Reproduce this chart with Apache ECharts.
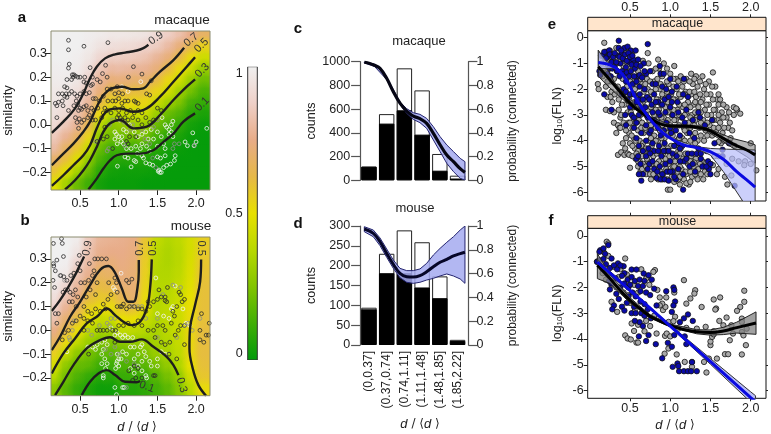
<!DOCTYPE html>
<html>
<head>
<meta charset="utf-8">
<style>html,body{margin:0;padding:0;background:#fff}#chart{width:771px;height:434px}</style>
<script src="https://cdn.jsdelivr.net/npm/echarts@6/dist/echarts.min.js"></script>
</head>
<body>
<div id="chart"></div>
<script>
// panel a/b background field, one array per column, rows top to bottom
const fieldCols = [.197,.344,.491,.638,.785,.931,1.078,1.225,1.372,1.519,1.666,1.813,1.96,2.107];
const fieldRows = [.37,.322,.274,.227,.179,.131,.083,.036,-.012,-.06,-.107,-.155,-.203,-.251];
const fieldA = [
  [1,1,1,.99,.98,.97,.96,.94,.91,.85,.8,.69,.59,.48],
  [1,1,1,.99,.98,.96,.94,.91,.84,.77,.68,.6,.48,.33],
  [1,1,.99,.98,.96,.93,.88,.82,.77,.68,.58,.47,.33,.2],
  [.99,.98,.96,.93,.88,.83,.78,.72,.63,.54,.42,.28,.2,.12],
  [.98,.95,.9,.84,.78,.72,.62,.52,.37,.28,.2,.14,.08,.04],
  [.97,.93,.87,.8,.72,.62,.54,.37,.27,.21,.13,.08,.04,.02],
  [.97,.92,.86,.8,.72,.62,.54,.4,.28,.21,.12,.07,.03,.02],
  [.96,.91,.85,.78,.7,.61,.53,.42,.31,.22,.12,.07,.03,.02],
  [.95,.88,.83,.77,.7,.6,.53,.42,.3,.22,.11,.06,.03,.01],
  [.91,.86,.78,.72,.62,.54,.42,.3,.2,.13,.08,.04,.02,.01],
  [.87,.8,.72,.62,.53,.44,.32,.2,.14,.08,.04,.02,.01,.01],
  [.82,.72,.62,.52,.43,.32,.24,.15,.09,.05,.02,.01,.01,.01],
  [.75,.63,.52,.42,.3,.22,.13,.08,.04,.02,.01,.01,.01,.01],
  [.68,.55,.43,.3,.21,.14,.1,.05,.02,.01,.01,.01,.01,.01]
];
const fieldB = [
  [1,1,1,.99,.97,.93,.88,.82,.74,.67,.55,.45,.37,.27],
  [1,1,.99,.97,.9,.83,.77,.7,.62,.52,.4,.28,.22,.17],
  [.98,.95,.89,.84,.79,.74,.67,.6,.51,.39,.27,.2,.15,.1],
  [.85,.83,.8,.76,.69,.62,.55,.49,.38,.3,.23,.18,.1,.06],
  [.78,.76,.72,.67,.62,.58,.51,.41,.33,.24,.18,.12,.07,.03],
  [.77,.75,.72,.68,.63,.58,.52,.41,.32,.24,.18,.12,.07,.03],
  [.76,.75,.74,.73,.71,.65,.58,.5,.39,.27,.2,.15,.11,.07],
  [.74,.73,.72,.71,.71,.7,.6,.5,.38,.29,.2,.16,.11,.07],
  [.58,.57,.56,.55,.54,.52,.49,.42,.36,.3,.24,.17,.12,.09],
  [.4,.38,.37,.36,.37,.37,.37,.36,.34,.33,.3,.23,.17,.13],
  [.36,.35,.35,.36,.37,.38,.39,.39,.38,.36,.34,.29,.23,.18],
  [.39,.38,.38,.39,.41,.42,.43,.43,.42,.41,.39,.36,.3,.26],
  [.45,.45,.46,.47,.48,.5,.51,.52,.53,.53,.53,.5,.44,.38],
  [.56,.57,.58,.59,.6,.6,.6,.6,.61,.61,.61,.6,.58,.52]
];
const rampColors = ['#009a0a','#40ae06','#82c400','#b8d800','#e8e000','#e6b848','#e8ac88','#eed0c8','#f0f0f0'];

// contour lines, [d, similarity]
const contoursA = [
  [[.134,-.034],[.284,.013],[.435,.069],[.543,.132],[.629,.195],[.716,.244],[.823,.279],[.953,.296],[1.082,.303],[1.233,.312],[1.319,.322],[1.384,.336]],
  [[.134,-.17],[.284,-.121],[.414,-.079],[.543,-.029],[.629,.013],[.716,.076],[.802,.125],[.91,.153],[1.04,.16],[1.19,.149],[1.319,.153],[1.405,.181],[1.534,.223],[1.707,.272],[1.845,.324]],
  [[.134,-.257],[.284,-.212],[.414,-.17],[.543,-.128],[.629,-.086],[.716,-.015],[.802,.041],[.888,.065],[1.017,.069],[1.19,.055],[1.362,.069],[1.534,.118],[1.707,.181],[1.879,.244],[1.987,.284]],
  [[.306,-.272],[.435,-.233],[.543,-.191],[.629,-.149],[.716,-.093],[.802,-.029],[.888,.006],[1.017,.02],[1.19,-.015],[1.362,-.008],[1.534,.041],[1.707,.104],[1.879,.16],[1.987,.191]],
  [[.608,-.272],[.716,-.226],[.802,-.184],[.888,-.149],[.974,-.128],[1.103,-.121],[1.276,-.121],[1.448,-.107],[1.578,-.072],[1.707,-.037],[1.836,.013],[1.987,.048]]
];
const contoursB = [
  [[.134,.081],[.241,.127],[.349,.183],[.435,.232],[.5,.275],[.552,.31]],
  [[.134,-.083],[.241,-.027],[.371,.057],[.5,.12],[.629,.19],[.759,.254],[.866,.27],[.953,.241],[1.04,.176],[1.125,.12],[1.19,.12],[1.241,.176],[1.259,.246],[1.259,.295]],
  [[.134,-.181],[.284,-.097],[.435,-.034],[.586,.029],[.716,.057],[.845,.092],[.953,.064],[1.06,.036],[1.168,.022],[1.276,.036],[1.362,.092],[1.405,.176],[1.427,.298]],
  [[.177,-.272],[.284,-.216],[.414,-.146],[.586,-.076],[.759,-.041],[.888,-.029],[1.017,-.048],[1.147,-.048],[1.297,-.038],[1.448,-.069],[1.621,-.111],[1.707,-.146],[1.772,-.188]],
  [[.522,-.272],[.629,-.216],[.737,-.181],[.845,-.167],[.953,-.188],[1.082,-.216],[1.233,-.218],[1.276,-.213]],
  [[2.065,.298],[2.052,.204],[1.987,.106],[1.922,.008],[1.914,-.076],[1.957,-.16],[2.03,-.23],[2.129,-.275]]
];
const contourLabelsA = [[1.483,.364,'0.9',35],[1.935,.357,'0.7',40],[2.07,.333,'0.5',45],[2.08,.228,'0.3',45],[2.08,.086,'0.1',45]];
const contourLabelsB = [[.595,.345,'0.9',80],[1.276,.345,'0.7',90],[1.448,.345,'0.5',90],[2.06,.345,'0.5',-90],[1.362,-.237,'0.1',-20],[1.815,-.23,'0.3',-75]];

// panel a points
const aDark = [[.35,.355],[.35,.315],[.55,.33],[.86,.345],[.36,.255],[.35,.238],[.63,.24],[.83,.25],[.56,.2],[.66,.2],[.79,.215],[.85,.2],[.76,.18],[.33,.19],[.3,.16],[.33,.155],[.32,.13],[.22,.13],[.27,.13],[.4,.21],[.41,.2],[.42,.21],[.44,.205],[.47,.2],[.5,.2],[.39,.19],[.55,.18],[.58,.175],[.64,.165],[.66,.17],[.72,.19],[.18,.09],[.2,.08],[.22,.095],[.27,.1],[.3,.12],[.33,.115],[.36,.13],[.39,.14],[.43,.13],[.46,.12],[.5,.13],[.55,.14],[.58,.13],[.62,.135],[.67,.11],[.7,.11],[.75,.1],[.8,.12],[.86,.1],[.92,.1],[.96,.1],[1,.11],[1.04,.09],[1.08,.1],[1.12,.1],[1.2,.1],[1.22,.095],[1.25,.09],[1.36,.13],[1.4,.125],[.45,.1],[.47,.085],[.42,.08],[.48,.06],[.5,.07],[.52,.065],[.55,.075],[.58,.08],[.6,.06],[.65,.07],[.68,.06],[.2,.03],[.44,.03],[.46,.01],[.49,.025],[.52,.01],[.55,.02],[.6,.03],[.62,.04],[.66,.02],[.48,-.015],[.7,.02],[.78,.03],[.8,.05],[.85,.06],[.9,.05],[.95,.07],[1,.06],[1.05,.07],[1.1,.05],[1.15,.06],[1.2,.05],[1.25,.06],[1.3,.05],[.35,.06],[.28,.08],[.73,.07],[1.19,.244],[1.3,.213],[1.125,.2],[1.42,.185],[.98,.16],[.9,.15],[.85,.15],[.95,.13],[1,.135],[1.05,.13],[.82,.07],[.82,-.01],[1,.04],[.98,.03],[1.02,.03],[1.04,.02],[1.08,.03],[1.12,.02],[1.18,.03],[1.5,.07],[1.55,.06],[1.35,.03],[1.4,.01],[1.45,.02],[.72,-.07],[.8,-.06],[.85,-.05],[.92,-.1],[1.1,-.07],[1.12,-.08],[1.14,-.05],[1.22,-.05],[1.3,0],[1.25,.02]];
const aWhite = [[1.285,.181],[1.01,.02],[.95,-.03],[.97,-.04],[1,-.05],[1.04,-.05],[1.06,-.02],[1.1,-.03],[1.14,0],[1.2,-.03],[1.25,-.05],[1.3,-.04],[1.35,-.03],[1.38,-.06],[1.42,-.02],[1.45,-.06],[1.5,-.03],[1.56,.03],[1.6,0],[1.62,-.01],[1.65,-.02],[1.68,-.03],[1.68,0],[1.7,.015],[1.65,-.04],[1.7,-.05],[1.55,-.05],[1.58,-.08],[.98,-.08],[1.03,-.07],[1.06,-.08],[1.1,-.1],[1.16,-.1],[1.22,-.09],[1.28,-.1],[1.3,-.08],[1.36,-.09],[1.4,-.11],[1.5,-.09],[1.6,-.1],[1.858,-.072],[1.888,-.088],[1.974,-.088],[2,-.072],[1.957,-.034],[2.138,-.015],[.983,-.174],[1.16,-.177],[1.08,-.135],[1.12,-.14],[1.2,-.15],[1.22,-.155],[1.3,-.13],[1.32,-.14],[1.35,-.16],[1.4,-.165],[1.44,-.17],[1.5,-.135],[1.54,-.14],[1.6,-.13],[1.62,-.17],[1.67,-.165],[1.73,-.13],[1.72,-.15],[1.51,-.195],[1.52,-.19],[1.53,-.2],[1.55,-.2],[1.58,-.18],[1.24,-.12],[.95,-.06],[1.04,.16],[1.12,.14]];
const aGrey = [[.85,-.11],[.87,-.1],[.7,-.07],[1.08,-.09],[1.3,-.02],[1.15,-.02],[1.18,0],[1.07,.01],[.92,.02],[.88,0],[1.34,-.06],[1.48,-.18],[1.44,-.14],[1.72,-.08],[1.78,-.08],[1.98,-.085],[1.7,-.1],[1.4,-.08],[1.5,.02],[1.45,-.01]];

// panel b points
const bDark = [[.155,.365],[.26,.385],[.27,.365],[.49,.315],[.285,.31],[.2,.295],[.155,.28],[.16,.27],[.18,.25],[.25,.23],[.29,.225],[.33,.21],[.38,.23],[.42,.24],[.47,.28],[.5,.25],[.15,.21],[.17,.18],[.28,.16],[.31,.17],[.34,.17],[.37,.16],[.41,.15],[.44,.17],[.47,.14],[.51,.2],[.56,.2],[.61,.21],[.66,.23],[.69,.3],[.62,.28],[.73,.3],[.78,.3],[.84,.3],[.68,.25],[.72,.2],[.63,.17],[.7,.15],[.58,.14],[.55,.1],[.6,.08],[.65,.07],[.7,.09],[.76,.08],[.8,.11],[.83,.09],[.86,.13],[.9,.15],[.98,.16],[.87,.2],[.97,.2],[.95,.22],[1.1,.21],[1.13,.2],[1.17,.215],[.98,.1],[1.04,.1],[1.02,.1],[1.06,.11],[1.1,.09],[1.14,.1],[1.2,.1],[1.25,.09],[1.3,.09],[1.35,.08],[1.38,.12],[1.4,.1],[1.45,.12],[1.5,.13],[1.55,.14],[1.6,.14],[1.6,.125],[1.62,.12],[1.7,.08],[1.72,.06],[1.68,.03],[1.57,.02],[1.6,0],[1.5,.02],[1.45,0],[1.47,-.03],[1.38,0],[1.3,.02],[1.25,.04],[1.2,.02],[1.12,.03],[1.06,.02],[1,.02],[.96,0],[.92,0],[.85,0],[.8,0],[.76,0],[.72,0],[.66,.03],[.6,.04],[.55,.05],[.5,.06],[.45,.04],[.4,.03],[.35,0],[.3,-.01],[.27,-.04],[.22,.07],[.18,.07],[.2,.03],[.4,.12],[.45,.1],[.36,.12],[1.75,.1],[1.78,.16],[1.8,.15],[1.82,.12],[1.85,.13],[1.63,.18],[1.52,.17],[1.85,.02],[1.8,.02],[1.77,0],[1.73,-.02],[1.66,-.05],[1.6,-.06],[1.55,-.05],[1.85,-.06],[1.75,-.12],[1.65,-.1],[2.07,.07],[2.05,0],[2.05,-.04],[2.1,-.05],[2.13,-.02],[2.16,-.02],[2.17,.03],[.61,-.1],[.55,0],[.95,-.05],[1.13,-.17],[1.2,-.15],[1.25,-.16],[1.3,-.2],[1.22,-.2],[1.18,-.21],[1.45,-.19],[1.47,-.19]];
const bWhite = [[1.03,.24],[.93,.18],[.95,.17],[1.48,.22],[1.73,.186],[1.83,.09],[1.7,.1],[1.68,.09],[1.5,.07],[1.58,.06],[1.65,.05],[1.85,.02],[1.87,.03],[1.92,.02],[.9,.01],[.95,-.02],[.98,-.01],[1.02,-.02],[1.05,-.03],[1.08,-.02],[1.12,-.03],[1.18,-.03],[.82,-.04],[.78,-.05],[.72,-.06],[.66,-.07],[.6,-.07],[.33,-.09],[.7,-.08],[.85,-.06],[.8,-.08],[.78,-.1],[.82,-.12],[.85,-.14],[.78,-.14],[.83,-.16],[.8,-.19],[.8,-.2],[.98,-.1],[1,-.12],[.97,-.14],[1,-.15],[.96,-.16],[.98,-.13],[1.03,-.12],[1.05,-.09],[1.1,-.1],[1.15,-.07],[1.2,-.07],[1.25,-.1],[1.3,-.06],[1.28,-.07],[1.33,-.09],[1.35,-.11],[1.4,-.13],[1.42,-.15],[1.3,-.13],[1.2,-.12],[1.25,-.15],[1.15,-.16],[1.2,-.18],[1.3,-.17],[1.35,-.19],[1.36,-.2],[1.5,-.12],[1.55,-.09],[1.6,-.1],[1.5,-.15],[1.05,-.24],[1.07,-.24],[.97,-.27],[.95,-.24]];
const bGrey = [[.3,.21],[.24,.23],[.36,-.03],[.37,-.04],[.4,0],[.42,.04],[.75,.02],[.85,.03],[.88,.02],[.9,.05],[.95,.05],[.6,0],[.65,-.02],[1.25,.1],[1.3,.1],[1.17,.1],[1.35,.05],[1.5,.05],[1.57,.15],[1.7,.19],[1.8,.18],[1.9,.03],[1.95,0],[2.05,.05],[1,-.1],[.95,-.07],[1.1,-.13],[1.2,-.14],[.9,-.1],[.83,-.08],[1.1,-.24],[1.5,-.03],[1.75,-.03]];

// panels c and d, bars
const binLabels = ['(0,0.37]','(0.37,0.74]','(0.74,1.11]','(1.11,1.48]','(1.48,1.85]','(1.85,2.22]'];
const cTotal = [115,558,944,758,222,39];
const cConn = [115,478,590,385,81,15];
const dTotal = [94,230,289,259,173,13];
const dConn = [90,181,181,145,118,10];
// probability curves
const cCurve = [[.088,.995],[.2,.985],[.3,.97],[.415,.944],[.555,.86],[.694,.747],[.833,.65],[.973,.584],[1.11,.542],[1.25,.52],[1.39,.48],[1.53,.396],[1.67,.3],[1.81,.213],[1.95,.157],[2.09,.098],[2.19,.067]];
const cUpper = [[.088,1],[.3,.98],[.555,.87],[.833,.66],[.973,.604],[1.11,.57],[1.25,.556],[1.39,.522],[1.53,.452],[1.67,.368],[1.81,.298],[1.95,.242],[2.09,.185],[2.19,.157]];
const cLower = [[2.19,0],[2.09,.017],[1.95,.073],[1.81,.143],[1.67,.242],[1.53,.34],[1.39,.438],[1.25,.486],[1.11,.514],[.973,.565],[.833,.64],[.555,.85],[.3,.96],[.088,.99]];
const dCurve = [[.088,.975],[.276,.938],[.415,.868],[.555,.77],[.694,.678],[.833,.602],[.973,.574],[1.11,.571],[1.25,.583],[1.39,.616],[1.53,.658],[1.67,.695],[1.81,.72],[1.95,.748],[2.09,.768],[2.19,.78]];
const dUpper = [[.088,.994],[.276,.966],[.415,.9],[.555,.807],[.694,.714],[.833,.644],[.973,.625],[1.11,.625],[1.25,.639],[1.39,.686],[1.53,.756],[1.67,.812],[1.81,.863],[1.95,.91],[2.09,.966],[2.19,1]];
const dLower = [[2.19,.518],[2.09,.555],[1.95,.58],[1.81,.597],[1.67,.58],[1.53,.56],[1.39,.546],[1.25,.527],[1.11,.518],[.973,.527],[.833,.566],[.694,.644],[.555,.737],[.415,.835],[.276,.91],[.088,.952]];

// panel e points
const eGrey = [[.1,-1.8],[.11,-2],[.13,-1.3],[.15,-1],[.16,-1.5],[.18,-.2],[.2,-.6],[.2,-1.9],[.22,-2.3],[.2,-2.8],[.25,-.5],[.27,-2.1],[.28,-2.5],[.3,-2.9],[.3,-1.6],[.24,-1.2],[.26,-1.7],[.29,-.9],[.33,-.4],[.34,-1.3],[.35,-1.9],[.36,-2.4],[.36,-2.8],[.3,-3.3],[.35,-3.4],[.37,-3.5],[.38,-3.5],[.38,-3.1],[.4,-.7],[.42,-1.1],[.41,-1.6],[.42,-2.2],[.43,-2.6],[.41,-4.1],[.45,-3.9],[.44,-4.3],[.35,-4.55],[.39,-4.45],[.43,-4.55],[.47,-4.5],[.49,-4.55],[.5,-5.05],[.45,-.4],[.47,-.9],[.48,-1.4],[.46,-1.9],[.49,-2.4],[.47,-2.9],[.48,-3.3],[.49,-3.7],[.5,-4.1],[.52,-.6],[.53,-1.2],[.54,-1.7],[.52,-2.2],[.55,-2.7],[.54,-3.1],[.53,-3.5],[.55,-3.9],[.56,-4.3],[.57,-4.7],[.6,-5],[.58,-.9],[.6,-1.3],[.59,-1.9],[.6,-2.3],[.58,-2.7],[.61,-3.2],[.6,-3.6],[.62,-4],[.6,-4.4],[.62,-4.8],[.63,-5.2],[.65,-5.1],[.66,-.9],[.68,-1.4],[.65,-1.8],[.67,-2.1],[.66,-2.5],[.68,-2.9],[.65,-3.3],[.67,-3.7],[.66,-4.1],[.68,-4.5],[.67,-4.9],[.7,-5.3],[.72,-.6],[.73,-1],[.71,-1.6],[.72,-2],[.74,-2.4],[.72,-2.8],[.74,-3.2],[.71,-3.6],[.73,-4],[.75,-4.4],[.72,-4.8],[.75,-5.3],[.76,-5.5],[.78,-1.3],[.8,-1.7],[.77,-2.2],[.79,-2.6],[.8,-3],[.78,-3.4],[.8,-3.8],[.77,-4.2],[.79,-4.6],[.81,-5],[.82,-5.4],[.85,-.85],[.86,-1.2],[.84,-1.6],[.87,-2],[.85,-2.4],[.86,-2.8],[.84,-3.2],[.87,-3.6],[.85,-4],[.88,-4.4],[.86,-4.8],[.88,-5.2],[.9,-5.5],[.92,-1],[.9,-1.5],[.93,-1.9],[.91,-2.3],[.94,-2.7],[.92,-3.1],[.95,-3.5],[.93,-3.9],[.91,-4.3],[.94,-4.7],[.95,-5.1],[.96,-5.5],[.97,-5.9],[1,-1.4],[.98,-1.8],[1.01,-2.2],[.99,-2.6],[1.02,-3],[1,-3.4],[1.03,-3.8],[1.01,-4.2],[.99,-4.6],[1.03,-5],[1.02,-5.4],[1.05,-1.1],[1.07,-1.6],[1.08,-2],[1.06,-2.4],[1.09,-2.8],[1.07,-3.2],[1.05,-3.6],[1.08,-4],[1.1,-4.4],[1.06,-4.8],[1.09,-5.2],[1.12,-5.7],[1.13,-1.5],[1.15,-1.9],[1.13,-2.3],[1.16,-2.7],[1.14,-3.1],[1.17,-3.5],[1.15,-3.9],[1.13,-4.3],[1.16,-4.7],[1.14,-5.1],[1.17,-5.5],[1.2,-1.6],[1.19,-2.1],[1.22,-2.5],[1.2,-2.9],[1.23,-3.3],[1.21,-3.7],[1.19,-4.5],[1.22,-4.9],[1.2,-5.3],[1.23,-5.7],[1.26,-1.4],[1.28,-1.8],[1.26,-2.2],[1.29,-2.6],[1.27,-3],[1.3,-3.4],[1.28,-3.8],[1.26,-4.6],[1.29,-5],[1.27,-5.4],[1.32,-1.5],[1.34,-1.9],[1.32,-2.3],[1.35,-2.7],[1.33,-3.1],[1.36,-3.5],[1.34,-4],[1.32,-4.7],[1.35,-5.1],[1.34,-5.5],[1.4,-1.5],[1.42,-2],[1.4,-2.4],[1.43,-2.8],[1.41,-3.2],[1.44,-3.6],[1.42,-4],[1.4,-4.8],[1.43,-5.2],[1.41,-5.5],[1.48,-1.7],[1.5,-2.2],[1.48,-2.6],[1.51,-3],[1.49,-3.4],[1.52,-3.8],[1.5,-4.9],[1.53,-1.35],[1.56,-1.9],[1.58,-2.4],[1.56,-2.8],[1.59,-3.2],[1.57,-3.6],[1.55,-4.6],[1.58,-5.3],[1.6,-5.1],[1.62,-2.4],[1.64,-2.9],[1.62,-3.3],[1.65,-3.7],[1.63,-4.1],[1.68,-5.4],[1.7,-4.9],[1.7,-3.1],[1.72,-3.5],[1.7,-2.7],[1.71,-5.7],[1.76,-5.35],[1.79,-2.7],[1.79,-3],[1.77,-4.7],[1.77,-3.6],[1.83,-2.8],[1.82,-2.75],[1.87,-2.95],[1.85,-4.8],[1.93,-4.8],[1.92,-4.95],[2,-4.9],[2,-4.1],[2.07,-5.15],[1,-5.9],[1.1,-5.5],[1.8,-4.2],[1.74,-4.1],[.33,-3.7],[.25,-2.85],[.24,-1.5],[.23,-.9],[.27,-.95]];
const eGreyMore = [[.14,-.7],[.17,-1.2],[.22,-1.7],[.26,-2.3],[.31,-2.2],[.33,-1],[.37,-2.1],[.4,-2.6],[.39,-3],[.42,-3.3],[.45,-3.6],[.46,-2.3],[.5,-1.7],[.51,-2.9],[.5,-3.3],[.52,-3.8],[.53,-4.2],[.53,-4.6],[.56,-2],[.56,-2.5],[.57,-3.3],[.57,-4],[.58,-4.5],[.6,-4.8],[.63,-1.6],[.63,-2.6],[.63,-3],[.64,-3.5],[.64,-4.2],[.65,-4.6],[.69,-1.8],[.7,-2.4],[.7,-3],[.69,-3.5],[.7,-4.3],[.71,-4.7],[.7,-5],[.75,-1.7],[.76,-2.1],[.76,-2.7],[.76,-3.4],[.76,-3.9],[.77,-4.4],[.77,-4.9],[.79,-5.3],[.82,-1.2],[.82,-2],[.83,-2.4],[.82,-2.8],[.82,-3.5],[.82,-4],[.83,-4.5],[.83,-4.9],[.85,-5.5],[.89,-1.4],[.88,-1.8],[.9,-2.2],[.89,-2.6],[.89,-3.1],[.9,-3.4],[.89,-3.9],[.91,-4.5],[.91,-4.9],[.91,-5.3],[.96,-1.2],[.96,-1.7],[.96,-2.1],[.97,-2.5],[.97,-2.9],[.97,-3.2],[.97,-3.7],[.97,-4.3],[.98,-4.9],[.98,-5.2],[1.04,-1.6],[1.04,-1.9],[1.04,-2.4],[1.04,-2.8],[1.05,-3.2],[1.05,-4.2],[1.05,-4.6],[1.05,-5],[1.05,-5.6],[1.1,-1.7],[1.11,-2.2],[1.11,-2.6],[1.11,-3],[1.11,-3.4],[1.11,-3.9],[1.12,-4.5],[1.12,-5],[1.12,-5.4],[1.17,-1.7],[1.18,-2.2],[1.18,-2.6],[1.18,-3],[1.18,-3.6],[1.18,-4],[1.19,-4.8],[1.19,-5.2],[1.2,-5.65],[1.24,-1.7],[1.24,-2.1],[1.25,-2.7],[1.25,-3.1],[1.25,-3.5],[1.25,-4],[1.25,-4.8],[1.25,-5.2],[1.25,-5.6],[1.3,-1.6],[1.3,-2.1],[1.31,-2.5],[1.31,-2.9],[1.31,-3.2],[1.31,-3.7],[1.31,-4.1],[1.3,-4.85],[1.31,-5.3],[1.37,-1.7],[1.37,-2.2],[1.38,-2.5],[1.38,-2.9],[1.38,-3.3],[1.38,-3.8],[1.37,-4.9],[1.38,-5.3],[1.44,-1.8],[1.45,-2.2],[1.45,-2.6],[1.46,-3],[1.46,-3.3],[1.46,-3.8],[1.45,-4.85],[1.46,-5.3],[1.52,-1.9],[1.53,-2.4],[1.54,-2.8],[1.54,-3.2],[1.54,-3.5],[1.53,-4.95],[1.6,-2.2],[1.6,-2.6],[1.6,-3],[1.6,-3.5],[1.6,-4.05],[1.6,-4.6],[1.66,-2.6],[1.66,-3.1],[1.67,-3.5],[1.67,-4],[1.73,-2.9],[1.74,-3.3],[1.75,-3.9]];
const eBlue = [[.12,-1.3],[.13,-1.45],[.18,-2.2],[.2,-.55],[.22,-.75],[.24,-.5],[.27,-.95],[.24,-1.2],[.22,-1.4],[.26,-1.5],[.28,-1.2],[.27,-2.8],[.36,-.12],[.36,-.4],[.35,-.7],[.38,-1],[.4,-.6],[.43,-.4],[.42,-.85],[.45,-1.15],[.47,-.35],[.49,-.95],[.51,-.5],[.54,-.85],[.57,-.5],[.56,-1.2],[.53,-1.8],[.45,-1.7],[.4,-2.2],[.47,-2.4],[.5,-2.7],[.44,-3],[.52,-3],[.58,-3.3],[.55,-3.5],[.6,-1.5],[.62,-1.9],[.6,-2.4],[.64,-2.8],[.61,-3],[.58,-3.9],[.61,-4.2],[.58,-4.7],[.63,-4.9],[.66,-5.3],[.61,-5.3],[.64,-5.55],[.67,-1],[.7,-1.4],[.68,-2],[.71,-2.3],[.69,-2.7],[.72,-3.1],[.7,-3.4],[.74,-3.7],[.7,-4],[.73,-4.3],[.7,-4.6],[.74,-4.9],[.72,-.25],[.78,-1.8],[.8,-2.2],[.78,-2.9],[.8,-3.2],[.78,-4.1],[.8,-4.4],[.78,-4.8],[.8,-5.1],[.83,-5.45],[.87,-1.1],[.88,-1.4],[.85,-2.5],[.87,-3],[.85,-3.5],[.88,-3.8],[.86,-4.2],[.89,-4.6],[.87,-5],[.88,-5.5],[.92,-1.4],[.93,-2.4],[.94,-2.9],[.95,-3.3],[.93,-4.1],[.95,-4.4],[.94,-4.9],[.96,-5.2],[.93,-5.5],[1,-1.6],[1.02,-2.1],[1,-2.7],[1.03,-3],[1.01,-3.7],[1.03,-4.5],[1,-4.8],[1.03,-5.2],[.98,-5.55],[1.08,-1.9],[1.09,-2.5],[1.07,-3.6],[1.1,-4.1],[1.08,-4.6],[1.1,-5.1],[1.07,-5.5],[1.17,-1.6],[1.16,-2.2],[1.18,-3.3],[1.15,-4.2],[1.17,-4.8],[1.16,-5.3],[1.16,-5.9],[1.22,-2.3],[1.24,-3.7],[1.22,-4.5],[1.24,-5],[1.28,-3.2],[1.3,-3.9],[1.28,-4.9],[1.31,-5.2],[1.35,-2.9],[1.37,-3.1],[1.35,-4.3],[1.38,-4.7],[1.4,-5],[1.43,-3.4],[1.45,-4.4],[1.47,-4.8],[1.5,-5.3],[1.52,-3.2],[1.55,-4.1],[1.48,-5.1],[1.65,-4.35],[1.65,-4.6],[1.8,-5.75],[1.73,-4.1]];
const eBlueMore = [[.15,-.7],[.18,-.55],[.2,-.8],[.25,-.65],[.29,-.75],[.31,-.6],[.33,-.95],[.31,-1.15],[.34,-1.3],[.37,-.75],[.39,-.5],[.41,-.8],[.44,-.65],[.46,-.9],[.48,-.6],[.5,-.75],[.53,-.7],[.55,-1],[.52,-1.05],[.58,-1.05],[.6,-.85],[.63,-1.1],[.37,-1.5],[.4,-1.3],[.43,-1.4],[.46,-1.35],[.49,-1.5],[.51,-1.3],[.55,-1.5],[.58,-1.7],[.62,-1.45],[.65,-1.55],[.68,-1.3],[.42,-2],[.45,-2.1],[.5,-2.2],[.55,-2.2],[.58,-2.5],[.62,-2.2],[.66,-2.4],[.66,-2.9],[.74,-2.4],[.77,-2.6],[.82,-2.5],[.85,-2.9],[.9,-2.6],[.98,-2.3],[1.02,-2.5],[1.1,-2.9],[1.15,-3.1],[1.2,-2.8],[.75,-1.3],[.82,-1.8],[.9,-1.9],[.95,-2],[.75,-4.5],[.85,-4.4],[.92,-4.4],[.98,-4.4],[1.05,-4.2],[1.12,-4.3],[1.2,-4.7],[1.27,-4.5],[1.33,-4.5],[1.38,-4.5],[1.45,-5],[1.5,-4.9],[.72,-5.1],[.84,-5.2],[.9,-5.3],[1,-5.2],[1.05,-5.4],[1.12,-4.8],[.66,-4.4],[.6,-4.6],[.64,-3.7],[.76,-3.6],[.84,-3.3],[.92,-3.6],[1,-3.5],[1.12,-3.8],[.55,-3.1],[.45,-3.4]];
// panel f points
const fGrey = [[.21,-.23],[.23,-.3],[.17,-.62],[.23,-.78],[.09,-1],[.44,-.88],[.27,-2.56],[.34,-2.95],[.44,-3.86],[.47,-3.98],[.51,-4.02],[.58,-4.14],[.6,-4.14],[.55,-3.69],[.6,-3.45],[.83,-3.79],[.935,-3.88],[.956,-3.79],[.977,-4.37],[.93,-4.57],[.95,-2.39],[.87,-2.39],[.81,-1.33],[.79,-1.4],[.7,-1.66],[1.17,-1.72],[1.31,-2.11],[1.3,-2.24],[1.25,-2.43],[1.2,-2.63],[1.39,-2.76],[1.54,-2.47],[1.62,-2.39],[1.57,-2.82],[1.56,-2.86],[1.92,-2.13],[1.92,-2.56],[1.87,-2.76],[1.83,-2.91],[1.08,-4.6],[1.18,-4.89],[1.27,-4.89],[1.27,-5.08],[1.42,-4.89],[1.45,-5.3],[1.48,-4.76],[1.5,-4.24],[1.5,-4.1],[1.52,-3.92],[1.54,-3.82],[1.44,-3.53],[1.33,-3.6],[1.2,-3.57],[.98,-3.34],[.91,-2.88],[.94,-2.76],[.9,-2.63],[.87,-2.7],[1.06,-3.14],[1.04,-3.31],[1.61,-3.3],[1.7,-3.17],[1.66,-3.47],[1.76,-3.47],[1.78,-3.79],[1.89,-3.21],[1.89,-3.34],[1.89,-3.73],[1.95,-3.6],[1.91,-3.86],[1.94,-4.24],[1.89,-4.6],[1.58,-4.76],[1.68,-4.59],[1.72,-4.59],[1.74,-4.05],[1.54,-3.7],[.16,-1.45],[.2,-1.7],[.27,-1.9],[.33,-2],[.36,-1.6],[.42,-2.2],[.48,-2.3],[.5,-2.6],[.56,-2.9],[.6,-2.2],[.66,-3],[.7,-3.3],[.75,-3.5],[.8,-3.1],[.55,-1.9],[.64,-1.3],[.3,-1.2],[.38,-1.3],[.46,-1.5],[.52,-3.4],[.68,-3.7],[.74,-1.9],[.84,-2.1],[1.1,-3.6],[1,-3.9],[1.05,-2.2]];
const fBlue = [[.13,-.56],[.12,-.62],[.17,-.49],[.23,-.36],[.19,-.7],[.12,-.95],[.09,-1.01],[.17,-.9],[.27,-.88],[.35,-1.07],[.42,-1.18],[.52,-1.31],[.58,-1.31],[.67,-1.46],[.73,-1.53],[.77,-1.7],[.2,-1.1],[.25,-1.25],[.3,-1.15],[.34,-1.3],[.38,-1.15],[.43,-1.45],[.47,-1.7],[.52,-1.6],[.56,-1.75],[.62,-1.7],[.68,-1.75],[.22,-1.5],[.27,-1.85],[.25,-2.08],[.33,-2.25],[.38,-2],[.43,-1.85],[.48,-2],[.53,-2.2],[.57,-2.35],[.63,-2.15],[.7,-2.2],[.75,-2.3],[.8,-2.05],[.63,-2.55],[.68,-2.65],[.3,-2.7],[.28,-2.85],[.36,-2.45],[.4,-2.75],[.46,-2.6],[.43,-2.9],[.52,-3],[.57,-3],[.64,-3],[.7,-3.05],[.76,-3.2],[.62,-3.35],[.66,-3.5],[.56,-3.3],[.68,-3.1],[.73,-3.85],[.61,-3.9],[.7,-4.08],[.82,-4.2],[.9,-4.75],[.97,-4.15],[1.02,-4.3],[.83,-2.7],[.95,-2.15],[1.04,-2],[1.05,-2.1],[1.06,-2.55],[1.04,-2.7],[1.02,-2.95],[1.22,-3.05],[1.17,-3.2],[1.28,-3.3],[1.05,-3.85],[1.12,-3.35],[1.18,-3.9],[1.03,-5.08],[1.09,-4.95],[1.1,-5.05],[1.11,-5.25],[1.17,-5.25],[1.22,-5.25],[1.26,-5.25],[1.33,-5.25],[1.2,-4.2],[1.27,-4.9],[.16,-1.3],[.24,-1.75],[.32,-1.65],[.4,-1.55],[.48,-2.35],[.6,-1.95],[.66,-1.95],[.55,-2.75],[.5,-1.9],[.72,-2.85]];

// panels e and f, fitted curves
const eBlackCurve = [[.106,-1.13],[.251,-1.64],[.376,-2.1],[.5,-2.55],[.624,-2.87],[.749,-3.13],[.873,-3.35],[.997,-3.43],[1.122,-3.43],[1.287,-3.46],[1.453,-3.56],[1.619,-3.84],[1.785,-4.13],[1.95,-4.36],[2.055,-4.55]];
const eBlackBand = [[.106,-.48],[.2,-1.1],[.3,-1.7],[.5,-2.47],[.75,-3.07],[1,-3.38],[1.29,-3.41],[1.45,-3.5],[1.62,-3.72],[1.785,-3.92],[1.95,-4.05],[2.055,-4.16],[2.055,-4.87],[1.95,-4.62],[1.785,-4.3],[1.62,-3.95],[1.45,-3.62],[1.29,-3.51],[1,-3.48],[.75,-3.19],[.5,-2.63],[.3,-2.1],[.2,-1.8],[.106,-1.5]];
const eBlueCurve = [[.106,-.96],[.251,-1.06],[.376,-1.32],[.479,-1.77],[.562,-2.29],[.666,-2.81],[.79,-3.32],[.914,-3.71],[1.039,-3.97],[1.163,-4.16],[1.329,-4.27],[1.495,-4.42],[1.66,-4.72],[1.826,-5.2],[1.95,-5.52],[2.055,-5.8]];
const eBlueBand = [[.106,-.5],[.2,-.9],[.3,-1.12],[.376,-1.28],[.479,-1.72],[.666,-2.76],[.79,-3.28],[1.039,-3.93],[1.329,-4.23],[1.5,-4.3],[1.7,-4.33],[2.055,-4.36],[2.055,-7],[1.9,-6.34],[1.66,-5.2],[1.5,-4.56],[1.329,-4.31],[1.039,-4.01],[.79,-3.36],[.666,-2.86],[.479,-1.82],[.376,-1.36],[.3,-1.2],[.2,-1.2],[.106,-1.2]];
const fBlackCurve = [[.094,-1.14],[.251,-1.66],[.376,-2.11],[.5,-2.5],[.624,-2.82],[.749,-3.12],[.873,-3.31],[.997,-3.47],[1.163,-3.63],[1.329,-3.72],[1.495,-3.75],[1.66,-3.69],[1.826,-3.56],[2.066,-3.38]];
const fBlackBand = [[.094,-.69],[.251,-1.5],[.5,-2.4],[.749,-3.06],[.997,-3.42],[1.329,-3.64],[1.495,-3.65],[1.66,-3.55],[1.826,-3.35],[2.066,-2.95],[2.066,-3.82],[1.826,-3.77],[1.66,-3.83],[1.495,-3.85],[1.329,-3.8],[.997,-3.53],[.749,-3.18],[.5,-2.6],[.251,-1.85],[.094,-1.66]];
const fBlueCurve = [[.094,-1.02],[.5,-2.12],[1,-3.5],[1.5,-4.88],[2,-6.27],[2.06,-6.42]];
const fBlueBand = [[.094,-.93],[.5,-2.07],[1,-3.46],[1.5,-4.76],[2,-6.05],[2.06,-6.2],[2.06,-6.6],[2,-6.45],[1.5,-4.98],[1,-3.54],[.5,-2.17],[.094,-1.12]];

// tick labels
const simXTicks = [.5,1,1.5,2];
const simYTicks = [-.2,-.1,0,.1,.2,.3];
const flnXTicks = [.5,1,1.5,2];
const flnYTicks = [-6,-5,-4,-3,-2,-1,0];
const probTicks = [0,.2,.4,.6,.8,1];
const cCountTicks = [0,200,400,600,800,1000];
const dCountTicks = [0,50,100,150,200,250,300];
const barTicks = [0,.5,1];

const FONT = '"Liberation Sans", Arial, sans-serif';
const INK = '#222';
const chart = echarts.init(document.getElementById('chart'), null, {renderer: 'canvas'});

const grids = [
  {left: 51, top: 31, width: 159, height: 159},
  {left: 51, top: 237, width: 159, height: 158.7},
  {left: 360.1, top: 61.7, width: 106.3, height: 118.6},
  {left: 360.1, top: 226, width: 106.3, height: 119},
  {left: 587.7, top: 30.7, width: 178.3, height: 170.3, show: true, borderColor: '#111', borderWidth: 1},
  {left: 587.7, top: 228.3, width: 178.3, height: 170, show: true, borderColor: '#111', borderWidth: 1},
  {left: 247.7, top: 66.7, width: 9.6, height: 293.3}
];

function hidden(i, extra) {
  return Object.assign({type: 'value', gridIndex: i, show: false}, extra);
}
function valAxis(i, pos, min, max, ticks, tickLen, margin, extra) {
  const labelExtra = (extra && extra.label) || {};
  return Object.assign({
    type: 'value', gridIndex: i, position: pos, min: min, max: max,
    axisLine: {show: false, onZero: false},
    splitLine: {show: false},
    axisTick: {show: true, length: tickLen, customValues: ticks, lineStyle: {color: INK, width: 1}},
    axisLabel: Object.assign({show: true, customValues: ticks, margin: margin, fontFamily: FONT, fontSize: 12.5, color: INK}, labelExtra)
  }, extra && extra.axis);
}
const fixed1 = v => v.toFixed(1);
const minusFixed1 = v => v.toFixed(1).replace('-', '\u2212');
const d2 = v => (v < 0 ? '-' : '') + Math.abs(v);

const xAxes = [
  valAxis(0, 'bottom', .124, 2.18, simXTicks, 5, 7, {label: {formatter: fixed1}}),
  valAxis(1, 'bottom', .124, 2.18, simXTicks, 5, 7, {label: {formatter: fixed1}}),
  {type: 'category', gridIndex: 2, data: binLabels, show: false},
  hidden(2, {min: 0, max: 2.22, position: 'top'}),
  {type: 'category', gridIndex: 3, data: binLabels, axisLine: {show: false}, axisTick: {show: false},
    axisLabel: {rotate: 90, margin: 6, interval: 0, fontFamily: FONT, fontSize: 12, color: INK}},
  hidden(3, {min: 0, max: 2.22, position: 'top'}),
  valAxis(4, 'bottom', -.026, 2.19, flnXTicks, 3, 4, {label: {show: false}}),
  valAxis(4, 'top', -.026, 2.19, flnXTicks, 3, 3, {label: {formatter: fixed1}, axis: {offset: 13.4}}),
  valAxis(5, 'bottom', -.026, 2.19, flnXTicks, 3, 4, {label: {formatter: fixed1}}),
  valAxis(5, 'top', -.026, 2.19, flnXTicks, 3, 3, {label: {show: false}, axis: {offset: 12.6}}),
  hidden(6, {min: 0, max: 1})
];

function countAxis(i, max, ticks) {
  return {
    type: 'value', gridIndex: i, position: 'left', min: 0, max: max, offset: 2,
    name: 'counts', nameLocation: 'middle', nameGap: 40,
    nameTextStyle: {fontFamily: FONT, fontSize: 12.5, color: INK},
    axisLine: {show: true, lineStyle: {color: '#555', width: 1.2}},
    axisTick: {show: true, length: 9, customValues: ticks, lineStyle: {color: '#555', width: 1.2}},
    axisLabel: {customValues: ticks, margin: 8, fontFamily: FONT, fontSize: 12.5, color: INK, formatter: v => String(v)},
    splitLine: {show: false}
  };
}
function probAxis(i) {
  return {
    type: 'value', gridIndex: i, position: 'right', min: 0, max: 1, offset: 2,
    name: 'probability (connected)', nameLocation: 'middle', nameGap: 38,
    nameTextStyle: {fontFamily: FONT, fontSize: 12, color: INK},
    axisLine: {show: true, lineStyle: {color: '#555', width: 1.2}},
    axisTick: {show: true, length: 9, customValues: probTicks, lineStyle: {color: '#555', width: 1.2}},
    axisLabel: {customValues: probTicks, margin: 8, fontFamily: FONT, fontSize: 12.5, color: INK},
    splitLine: {show: false}
  };
}
const simName = {name: 'similarity', nameLocation: 'middle', nameGap: 36,
  nameTextStyle: {fontFamily: FONT, fontSize: 13, color: INK}};
const flnName = {name: 'log{s|10}(FLN)', nameLocation: 'middle', nameGap: 24,
  nameTextStyle: {fontFamily: FONT, fontSize: 12.5, color: INK,
    rich: {s: {fontFamily: FONT, fontSize: 8, color: INK, verticalAlign: 'bottom', padding: [5, 0, 0, 0]}}}};
const rightTicks = {label: {show: false}};

const yAxes = [
  valAxis(0, 'left', -.274, .394, simYTicks, 6, 4, {label: {formatter: minusFixed1}, axis: simName}),
  valAxis(1, 'left', -.2745, .392, simYTicks, 6, 4, {label: {formatter: minusFixed1}, axis: simName}),
  countAxis(2, 1000, cCountTicks),
  probAxis(2),
  countAxis(3, 300, dCountTicks),
  probAxis(3),
  valAxis(4, 'left', -6.34, .27, flnYTicks, 4, 4, {label: {formatter: d2}, axis: flnName}),
  valAxis(4, 'right', -6.34, .27, flnYTicks, 2, 3, rightTicks),
  valAxis(5, 'left', -6.3, .29, flnYTicks, 4, 4, {label: {formatter: d2}, axis: flnName}),
  valAxis(5, 'right', -6.3, .29, flnYTicks, 2, 3, rightTicks),
  valAxis(6, 'left', 0, 1, barTicks, 0, 5, {label: {formatter: v => String(v), verticalAlignMaxLabel: 'top', verticalAlignMinLabel: 'bottom'}})
];

function fieldData(cols) {
  const out = [];
  cols.forEach((col, i) => col.forEach((v, j) => out.push([fieldCols[i], fieldRows[j], v])));
  return out;
}
function fieldColor(v) { return echarts.color.lerp(v, rampColors); }
// flat cells first, soft round cell on top so neighbouring cells blend
function cellSeries(i, cols) {
  return {
    type: 'custom', xAxisIndex: i, yAxisIndex: i, z: 1, clip: true, silent: true,
    data: fieldData(cols),
    renderItem: function (p, api) {
      const c = api.coord([api.value(0), api.value(1)]);
      const s = api.size([fieldCols[1] - fieldCols[0], fieldRows[0] - fieldRows[1]]);
      return {type: 'rect', shape: {x: c[0] - s[0] / 2 - .5, y: c[1] - s[1] / 2 - .5, width: s[0] + 1, height: s[1] + 1},
        style: {fill: fieldColor(api.value(2))}};
    }
  };
}
function softSeries(i, cols) {
  return {
    type: 'custom', xAxisIndex: i, yAxisIndex: i, z: 2, clip: true, silent: true,
    data: fieldData(cols),
    renderItem: function (p, api) {
      const c = api.coord([api.value(0), api.value(1)]);
      const col = fieldColor(api.value(2));
      const fade = echarts.color.modifyAlpha(col, 0);
      return {type: 'circle', shape: {cx: c[0], cy: c[1], r: 13},
        style: {fill: new echarts.graphic.RadialGradient(.5, .5, .5, [
          {offset: 0, color: col}, {offset: .4, color: echarts.color.modifyAlpha(col, .8)}, {offset: 1, color: fade}])}};
    }
  };
}
function contourSeries(i, lines) {
  return lines.map(l => ({type: 'line', xAxisIndex: i, yAxisIndex: i, z: 4, data: l, smooth: .4, symbol: 'none', silent: true,
    lineStyle: {color: '#1e1e1e', width: 2.4}}));
}
function contourLabels(i, labels) {
  return {
    type: 'custom', xAxisIndex: i, yAxisIndex: i, z: 5, silent: true,
    data: labels.map(l => [l[0], l[1]]),
    renderItem: function (p, api) {
      const l = labels[p.dataIndex];
      const c = api.coord([l[0], l[1]]);
      return {type: 'text', x: c[0], y: c[1], rotation: l[3] * Math.PI / 180,
        style: {text: l[2], fill: '#333', font: '11px ' + FONT, align: 'center', verticalAlign: 'middle'}};
    }
  };
}
function ringSeries(i, pts, color) {
  return {type: 'scatter', xAxisIndex: i, yAxisIndex: i, z: 3, data: pts, symbolSize: 3.8, silent: true,
    itemStyle: {color: 'rgba(0,0,0,0)', borderColor: color, borderWidth: 1}};
}
function dotSeries(xi, yi, pts, color, z) {
  return {type: 'scatter', xAxisIndex: xi, yAxisIndex: yi, z: z, data: pts, symbolSize: 5.4, silent: true,
    itemStyle: {color: color, borderColor: '#111', borderWidth: .8, opacity: 1}};
}
function bandSeries(xi, yi, pts, fill, stroke, z) {
  return {
    type: 'custom', xAxisIndex: xi, yAxisIndex: yi, z: z, clip: true, silent: true, data: pts,
    renderItem: function (p, api) {
      if (p.dataIndex !== 0) return null;
      return {type: 'polygon', shape: {points: pts.map(q => api.coord(q))},
        style: {fill: fill, stroke: stroke, lineWidth: 1}};
    }
  };
}
function curveSeries(xi, yi, pts, color, width, z) {
  return {type: 'line', xAxisIndex: xi, yAxisIndex: yi, z: z, data: pts, smooth: .4, symbol: 'none', silent: true,
    lineStyle: {color: color, width: width}};
}
function barPair(xi, yi, total, conn) {
  return [
    {type: 'bar', xAxisIndex: xi, yAxisIndex: yi, data: total, barWidth: '87%', barGap: '-100%', z: 2, silent: true,
      itemStyle: {color: '#fff', borderColor: '#222', borderWidth: 1}},
    {type: 'bar', xAxisIndex: xi, yAxisIndex: yi, data: conn, barWidth: '87%', barGap: '-100%', z: 3, silent: true,
      itemStyle: {color: '#000', borderColor: '#000', borderWidth: 1}}
  ];
}
const BAND = 'rgba(165,170,240,.85)';

const series = [
  cellSeries(0, fieldA), softSeries(0, fieldA),
  ringSeries(0, aWhite, '#f4f4f4'), ringSeries(0, aGrey, '#8f8f8f'), ringSeries(0, aDark, '#2a2a2a'),
  ...contourSeries(0, contoursA), contourLabels(0, contourLabelsA),
  cellSeries(1, fieldB), softSeries(1, fieldB),
  ringSeries(1, bWhite, '#f4f4f4'), ringSeries(1, bGrey, '#8f8f8f'), ringSeries(1, bDark, '#2a2a2a'),
  ...contourSeries(1, contoursB), contourLabels(1, contourLabelsB),

  ...barPair(2, 2, cTotal, cConn),
  bandSeries(3, 3, cUpper.concat(cLower), BAND, '#23236e', 5),
  curveSeries(3, 3, cCurve, '#060614', 3.2, 6),
  ...barPair(4, 4, dTotal, dConn),
  bandSeries(5, 5, dUpper.concat(dLower), BAND, '#23236e', 5),
  curveSeries(5, 5, dCurve, '#060628', 3, 6),

  dotSeries(6, 6, eGrey.concat(eGreyMore), '#a9a9a9', 2),
  dotSeries(6, 6, eBlue.concat(eBlueMore), '#0a0aa8', 3),
  bandSeries(6, 6, eBlackBand, 'rgba(120,120,120,.55)', '#222', 4),
  bandSeries(6, 6, eBlueBand, 'rgba(185,190,250,.72)', '#333', 4),
  curveSeries(6, 6, eBlackCurve, '#000', 3, 5),
  curveSeries(6, 6, eBlueCurve, '#0a0ae0', 3, 6),

  dotSeries(8, 8, fGrey, '#a9a9a9', 2),
  dotSeries(8, 8, fBlue, '#0a0aa8', 3),
  bandSeries(8, 8, fBlackBand, 'rgba(130,130,130,.75)', '#222', 4),
  bandSeries(8, 8, fBlueBand, 'rgba(170,175,245,.85)', '#333', 4),
  curveSeries(8, 8, fBlackCurve, '#000', 3, 5),
  curveSeries(8, 8, fBlueCurve, '#0a0ae0', 3, 6),

  bandSeries(10, 10, [[0, 0], [1, 0], [1, 1], [0, 1]], new echarts.graphic.LinearGradient(0, 1, 0, 0,
    rampColors.map((c, i) => ({offset: i / (rampColors.length - 1), color: c}))), '#333', 3)
];

function label(text, x, y, size, extra) {
  return Object.assign({text: text, left: x, top: y, padding: 0, textAlign: 'center', textVerticalAlign: 'middle',
    textStyle: {fontFamily: FONT, fontSize: size, fontWeight: 'normal', color: INK}}, extra);
}
function letter(text, x, y) {
  return {text: text, left: x, top: y, padding: 0, textAlign: 'center', textVerticalAlign: 'middle',
    textStyle: {fontFamily: FONT, fontSize: 15, fontWeight: 'bold', color: '#111'}};
}
const dRich = {rich: {i: {fontFamily: FONT, fontStyle: 'italic', fontSize: 13, color: INK}, n: {fontFamily: '"DejaVu Sans", ' + FONT, fontSize: 12, color: INK}}};
function dName(x, y) {
  return {text: '{i|d}{n| / \u27e8}{i|d}{n| \u27e9}', left: x, top: y, padding: 0, textAlign: 'center', textVerticalAlign: 'middle',
    textStyle: Object.assign({fontFamily: FONT, fontSize: 13, fontWeight: 'normal', color: INK}, dRich)};
}
function strip(y, h, text) {
  return [{type: 'rect', shape: {x: 587.7, y: y, width: 178.3, height: h}, style: {fill: '#ffe5cc', stroke: '#111', lineWidth: 1}, z: 50},
    {type: 'text', x: 677.5, y: y + h / 2, style: {text: text, font: '12.5px ' + FONT, fill: INK, align: 'center', verticalAlign: 'middle'}, z: 51}];
}

chart.setOption({
  animation: false,
  grid: grids,
  xAxis: xAxes,
  yAxis: yAxes,
  series: series,
  title: [
    letter('a', 22, 18), letter('b', 25, 221), letter('c', 298, 29), letter('d', 298, 224), letter('e', 552, 25), letter('f', 551, 221),
    label('macaque', 182, 20, 13.5), label('mouse', 191, 226, 13.5),
    label('macaque', 419, 41, 13), label('mouse', 415, 208, 13),
    dName(137, 427), dName(420, 424), dName(675, 425)
  ],
  graphic: [
    {type: 'rect', shape: {x: 51, y: 31, width: 159, height: 159}, style: {fill: 'none', stroke: '#8c8c70', lineWidth: 1}, z: 40},
    {type: 'rect', shape: {x: 51, y: 237, width: 159, height: 158.7}, style: {fill: 'none', stroke: '#8c8c70', lineWidth: 1}, z: 40},
    ...strip(17.3, 13.4, 'macaque'),
    ...strip(215.7, 12.6, 'mouse')
  ]
});
</script>
</body>
</html>
